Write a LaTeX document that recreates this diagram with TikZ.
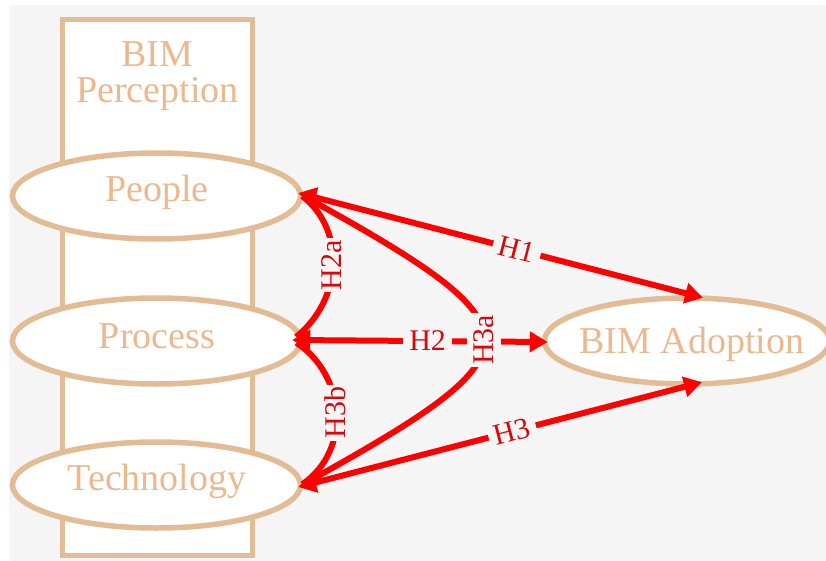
\documentclass[tikz,border=0pt]{standalone}
\usepackage{fontspec}
\setmainfont{Liberation Serif}
\usetikzlibrary{arrows.meta,shapes.geometric}
\definecolor{panelgray}{RGB}{245,245,245}
\definecolor{tanline}{RGB}{226,188,148}
\definecolor{tantext}{RGB}{236,184,142}
\definecolor{linkred}{RGB}{255,0,0}
\definecolor{labred}{RGB}{215,8,8}
\begin{document}
\begin{tikzpicture}[x=1pt,y=-1pt,
  frame/.style={draw=tanline, line width=5.5pt, fill=white, inner sep=0pt},
  construct/.style={ellipse, draw=tanline, line width=5.5pt, fill=white,
    minimum width=288pt, minimum height=86pt, inner sep=0pt},
  ctext/.style={text=tantext, font=\fontsize{38}{36}\selectfont, anchor=base, inner sep=0pt},
  link/.style={draw=linkred, line width=6pt,
    arrows={Triangle[length=18pt,width=20pt]-Triangle[length=18pt,width=20pt]}},
  curvelink/.style={draw=linkred, line width=6pt, shorten <=5pt, shorten >=5pt},
  hyp/.style={rectangle, fill=panelgray, text=labred, font=\fontsize{30}{30}\selectfont,
    inner xsep=6pt, inner ysep=3pt, minimum height=34pt},
  vhyp/.style={hyp, inner xsep=2pt, rotate=90}]
\useasboundingbox (0,0) rectangle (826,561);
\fill[white] (0,0) rectangle (826,561);
\fill[panelgray] (9,5) rectangle (826,561);

% perception frame and its three constructs
\node[frame, minimum width=190pt, minimum height=536pt] (perc) at (157.5,287.5) {};
\node[ctext, align=center] (percT) at (157.5,103) {BIM\\Perception};
\node[construct] (people) at (156.5,196) {};
\node[construct] (process) at (156.5,341) {};
\node[construct] (tech) at (156.5,485) {};
\node[construct, minimum width=285pt] (adopt) at (687,341) {};
\node[ctext] (peopleT) at (157,202) {People};
\node[ctext] (processT) at (157,348) {Process};
\node[ctext] (techT) at (157,490) {Technology};
\node[ctext] (adoptT) at (692,353) {BIM Adoption};

% arrow end points on the ellipses
\coordinate (pT) at ([shift={(-5,-3)}]people.east);
\coordinate (rT) at ([shift={(-11,-1)}]process.east);
\coordinate (tT) at ([shift={(-5,2)}]tech.east);
\coordinate (aW) at ([shift={(6,1)}]adopt.west);
\coordinate (aN) at ([shift={(16,2.5)}]adopt.north);
\coordinate (aS) at ([shift={(15,-4.5)}]adopt.south);

% hypotheses: lines first, then their labels on top
\draw[link] (pT) -- coordinate[pos=0.54] (h1) (aN);
\draw[link] (rT) -- coordinate[pos=0.53] (h2) (aW);
\draw[link] (tT) -- coordinate[pos=0.53] (h3) (aS);
\draw[curvelink] (pT) .. controls +(48,37) and +(50,-40) .. coordinate (h2a) (rT);
\draw[curvelink] (rT) .. controls +(53,35) and +(54,-37) .. coordinate (h3b) (tT);
\draw[curvelink] (pT) .. controls +(247,137) and +(247,-137) .. coordinate (h3a) (tT);
\node[hyp, rotate=-14.5] (h1L) at (h1) {H1};
\node[hyp] (h2L) at (h2) {H2};
\node[hyp, rotate=14.6] (h3L) at (h3) {H3};
\node[vhyp] (h2aL) at (h2a) {H2a};
\node[vhyp] (h3bL) at (h3b) {H3b};
\node[vhyp] (h3aL) at (h3a) {H3a};
\end{tikzpicture}
\end{document}
